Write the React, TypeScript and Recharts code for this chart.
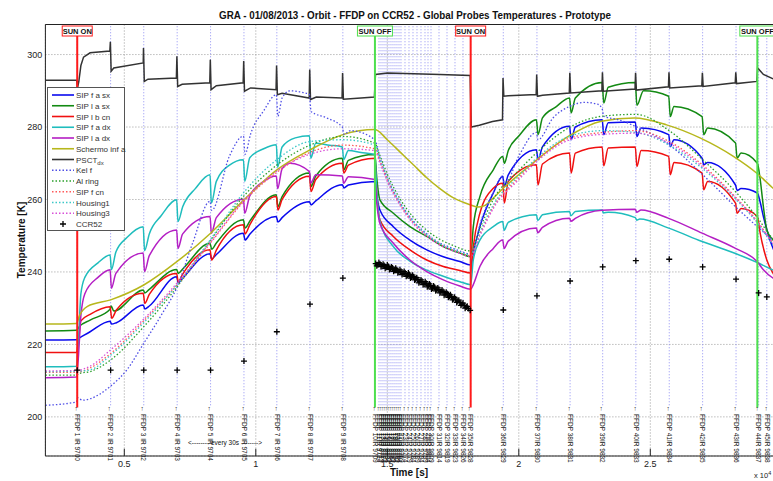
import React from "react";
import {
  ComposedChart,
  Line,
  Scatter,
  XAxis,
  YAxis,
  CartesianGrid,
  ReferenceLine,
  ReferenceDot,
} from "recharts";

// time in 10^4 s, temperature in K
const sipFaSx = [
  [0.2, 221.2], [0.318, 221.3], [0.33, 221.8], [0.37, 223.5], [0.446, 226.4], [0.452, 225.6], [0.47, 226.0],
  [0.572, 230.9], [0.578, 229.8], [0.595, 230.6], [0.699, 238.7], [0.705, 237.0], [0.722, 238.3],
  [0.826, 245.0], [0.832, 243.6], [0.85, 244.8], [0.953, 250.7], [0.959, 248.8], [0.977, 250.4],
  [1.078, 255.3], [1.084, 253.8], [1.1, 255.0], [1.204, 259.4], [1.21, 258.5], [1.228, 259.6],
  [1.329, 264.1], [1.335, 263.2], [1.352, 264.0], [1.453, 265.0], [1.46, 261.0], [1.472, 257.1],
  [1.523, 252.5], [1.586, 248.8], [1.65, 246.1], [1.713, 244.2], [1.776, 242.9], [1.817, 241.9],
  [1.827, 245.2], [1.852, 252.5], [1.903, 261.8], [1.939, 266.4], [1.945, 263.6], [1.96, 266.8],
  [2.067, 273.7], [2.073, 271.0], [2.09, 274.5], [2.193, 280.2], [2.199, 276.5], [2.215, 280.0],
  [2.317, 282.0], [2.323, 277.9], [2.34, 281.2], [2.443, 281.4], [2.449, 277.4], [2.465, 279.7],
  [2.57, 277.9], [2.576, 274.6], [2.59, 276.5], [2.697, 271.4], [2.703, 269.6], [2.718, 270.2],
  [2.824, 264.0], [2.83, 262.5], [2.845, 263.0], [2.907, 261.8], [2.917, 259.5], [2.93, 255.3],
  [2.967, 246.5], [3.0, 243.0],
];

const sipLaSx = [
  [0.2, 223.7], [0.318, 223.9], [0.33, 225.0], [0.37, 226.7], [0.446, 229.7], [0.45, 230.6], [0.46, 229.2],
  [0.572, 235.0], [0.578, 234.2], [0.595, 235.2], [0.699, 240.7], [0.705, 239.6], [0.722, 240.8],
  [0.826, 247.9], [0.832, 246.3], [0.85, 248.0], [0.953, 254.4], [0.959, 252.1], [0.977, 254.0],
  [1.078, 261.3], [1.084, 258.0], [1.1, 260.8], [1.204, 267.3], [1.21, 263.6], [1.228, 266.5],
  [1.329, 271.4], [1.335, 268.2], [1.352, 270.8], [1.453, 272.4], [1.46, 266.0], [1.472, 259.9],
  [1.523, 256.2], [1.586, 252.5], [1.65, 249.8], [1.713, 247.0], [1.776, 245.2], [1.817, 244.2],
  [1.827, 252.5], [1.852, 260.8], [1.903, 268.2], [1.939, 271.9], [1.945, 270.0], [1.96, 273.5],
  [2.0, 277.5], [2.067, 282.0], [2.073, 277.9], [2.09, 282.5], [2.14, 285.5], [2.193, 288.0],
  [2.199, 283.9], [2.215, 288.0], [2.317, 292.3], [2.323, 286.6], [2.34, 291.0], [2.443, 292.3],
  [2.449, 286.0], [2.474, 290.0], [2.57, 288.5], [2.576, 282.9], [2.59, 285.7], [2.697, 282.9],
  [2.703, 277.9], [2.718, 279.7], [2.824, 275.6], [2.83, 271.4], [2.845, 272.8], [2.907, 270.0],
  [2.917, 266.0], [2.93, 258.0], [2.943, 251.6], [2.967, 248.8], [3.0, 247.0],
];

const sipLbCn = [
  [0.2, 217.8], [0.318, 217.8], [0.326, 221.0], [0.335, 226.5], [0.37, 228.3], [0.446, 230.4], [0.452, 227.2],
  [0.47, 229.5], [0.572, 234.1], [0.578, 231.3], [0.595, 233.8], [0.699, 239.6], [0.705, 237.3],
  [0.722, 239.4], [0.826, 246.1], [0.832, 243.3], [0.85, 246.0], [0.953, 253.0], [0.959, 250.5],
  [0.977, 253.0], [1.078, 260.8], [1.084, 257.1], [1.1, 260.0], [1.204, 266.4], [1.21, 262.2],
  [1.228, 265.5], [1.329, 270.0], [1.335, 267.3], [1.352, 269.5], [1.453, 271.4], [1.46, 262.0],
  [1.472, 254.4], [1.523, 249.8], [1.586, 246.1], [1.65, 243.3], [1.713, 241.5], [1.776, 240.4],
  [1.817, 239.7], [1.827, 247.0], [1.852, 256.2], [1.903, 263.1], [1.939, 264.5], [1.945, 259.0],
  [1.96, 265.0], [2.067, 269.6], [2.073, 264.0], [2.09, 269.8], [2.193, 272.8], [2.199, 267.3],
  [2.215, 272.8], [2.317, 274.5], [2.323, 269.3], [2.34, 274.2], [2.443, 274.5], [2.449, 269.1],
  [2.465, 273.5], [2.57, 271.9], [2.576, 266.8], [2.59, 270.2], [2.697, 267.3], [2.703, 262.7],
  [2.718, 265.0], [2.824, 259.0], [2.83, 256.2], [2.845, 257.5], [2.907, 255.3], [2.917, 251.0],
  [2.943, 243.3], [2.967, 239.6], [3.0, 237.0],
];

const sipFaDx = [
  [0.2, 213.8], [0.318, 214.0], [0.325, 220.0], [0.335, 234.0], [0.35, 238.5], [0.4, 242.5], [0.446, 244.7],
  [0.451, 240.6], [0.468, 245.5], [0.51, 249.5], [0.572, 252.5], [0.577, 245.9], [0.595, 250.5],
  [0.64, 255.5], [0.699, 259.9], [0.704, 253.9], [0.722, 258.0], [0.77, 263.0], [0.826, 266.8],
  [0.831, 259.0], [0.85, 265.0], [0.9, 269.5], [0.953, 271.0], [0.958, 265.0], [0.977, 271.5],
  [1.03, 274.0], [1.078, 275.1], [1.083, 268.9], [1.1, 274.5], [1.15, 277.0], [1.204, 277.6],
  [1.209, 271.4], [1.228, 275.5], [1.28, 275.0], [1.329, 274.5], [1.334, 271.0], [1.352, 273.5],
  [1.4, 273.0], [1.453, 272.4], [1.46, 262.0], [1.472, 254.0], [1.523, 247.0], [1.586, 243.0],
  [1.65, 240.5], [1.713, 238.8], [1.776, 237.3], [1.817, 236.5], [1.827, 243.3], [1.852, 248.8],
  [1.903, 252.5], [1.939, 253.9], [1.944, 251.5], [1.96, 253.7], [2.067, 255.8], [2.072, 254.2],
  [2.09, 255.8], [2.193, 256.7], [2.198, 255.5], [2.215, 256.7], [2.317, 257.1], [2.322, 256.3],
  [2.34, 256.5], [2.443, 255.0], [2.448, 254.3], [2.46, 254.6], [2.57, 252.1], [2.697, 248.4],
  [2.824, 245.1], [2.907, 242.6], [2.967, 240.5], [3.0, 239.5],
];

const sipLaDx = [
  [0.2, 210.8], [0.318, 211.0], [0.325, 216.0], [0.335, 228.0], [0.35, 234.0], [0.4, 238.5], [0.446, 240.6],
  [0.451, 235.5], [0.468, 239.6], [0.572, 245.2], [0.577, 240.1], [0.595, 244.5], [0.699, 251.6],
  [0.704, 246.5], [0.722, 250.5], [0.826, 255.3], [0.831, 250.7], [0.85, 255.0], [0.953, 260.1],
  [0.958, 256.2], [0.977, 261.0], [1.03, 265.0], [1.078, 266.5], [1.083, 263.0], [1.1, 268.5],
  [1.13, 270.0], [1.204, 267.7], [1.209, 264.5], [1.228, 266.8], [1.329, 266.5], [1.334, 264.5],
  [1.352, 266.3], [1.453, 265.5], [1.46, 259.0], [1.472, 253.4], [1.523, 247.9], [1.586, 243.3],
  [1.65, 240.1], [1.713, 237.8], [1.776, 236.1], [1.817, 235.2], [1.827, 236.5], [1.852, 241.5],
  [1.903, 246.5], [1.939, 248.8], [1.944, 246.5], [1.96, 248.5], [2.067, 252.1], [2.072, 250.8],
  [2.09, 252.3], [2.193, 254.8], [2.198, 254.0], [2.215, 254.8], [2.317, 257.0], [2.443, 257.3],
  [2.448, 256.5], [2.465, 257.1], [2.57, 254.8], [2.697, 250.7], [2.824, 246.5], [2.907, 242.8],
  [2.93, 240.6], [2.967, 238.3], [3.0, 237.5],
];

const schermoInfA = [
  [0.2, 225.6], [0.318, 225.8], [0.33, 228.0], [0.36, 230.5], [0.448, 232.3], [0.574, 236.4], [0.701, 242.9],
  [0.828, 250.7], [0.955, 259.9], [1.08, 268.2], [1.206, 273.7], [1.331, 277.9], [1.453, 279.3],
  [1.5, 276.5], [1.55, 273.0], [1.6, 269.5], [1.65, 266.0], [1.7, 263.0], [1.75, 260.5], [1.817, 258.5],
  [1.845, 257.9], [1.87, 258.3], [1.903, 260.4], [1.935, 262.7], [2.061, 270.5], [2.188, 277.4],
  [2.314, 281.6], [2.44, 282.5], [2.562, 280.6], [2.689, 277.0], [2.816, 271.9], [2.904, 267.3],
  [2.967, 263.1], [3.0, 261.0],
];

const psctDx = [
  [0.2, 292.9], [0.319, 292.9], [0.322, 290.8], [0.327, 292.5], [0.335, 297.0], [0.345, 299.3], [0.37, 300.5],
  [0.445, 301.0], [0.447, 303.5], [0.45, 295.4], [0.46, 296.3], [0.572, 297.7], [0.573, 301.8],
  [0.576, 292.6], [0.59, 293.2], [0.698, 293.5], [0.7, 299.5], [0.703, 291.2], [0.72, 291.8],
  [0.825, 292.2], [0.827, 298.6], [0.83, 290.3], [0.85, 291.4], [0.952, 292.2], [0.954, 298.2],
  [0.957, 289.9], [0.98, 290.8], [1.077, 290.3], [1.079, 297.0], [1.082, 288.9], [1.1, 289.3],
  [1.203, 288.0], [1.205, 295.9], [1.208, 287.6], [1.23, 288.3], [1.328, 288.0], [1.33, 294.9],
  [1.333, 287.7], [1.4, 288.0], [1.451, 288.3], [1.455, 294.5], [1.5, 294.9], [1.7, 294.5],
  [1.815, 294.2], [1.819, 280.0], [1.85, 280.5], [1.9, 281.5], [1.938, 282.0], [1.94, 293.5],
  [1.943, 288.5], [1.96, 288.6], [2.066, 289.0], [2.068, 294.5], [2.071, 288.5], [2.09, 288.8],
  [2.192, 289.4], [2.194, 295.0], [2.197, 289.4], [2.316, 290.0], [2.318, 295.1], [2.321, 289.9],
  [2.442, 290.5], [2.444, 295.0], [2.447, 290.2], [2.569, 291.1], [2.571, 295.1], [2.574, 290.8],
  [2.696, 291.4], [2.698, 295.0], [2.701, 291.2], [2.823, 292.2], [2.825, 295.1], [2.828, 292.0],
  [2.905, 292.6], [2.908, 296.3], [2.93, 294.5], [2.967, 293.3], [3.0, 293.0],
];

const kelF = [
  [0.2, 203.2], [0.318, 204.1], [0.323, 205.3], [0.34, 204.6], [0.37, 205.0], [0.448, 208.5], [0.51, 213.0],
  [0.574, 220.3], [0.64, 228.0], [0.701, 235.9], [0.76, 248.0], [0.826, 259.5], [0.832, 257.0],
  [0.9, 272.0], [0.953, 277.5], [0.959, 272.5], [0.98, 278.0], [1.03, 284.5], [1.078, 288.9],
  [1.084, 283.0], [1.1, 288.0], [1.13, 290.0], [1.18, 289.5], [1.204, 289.0], [1.21, 284.3],
  [1.27, 282.5], [1.329, 280.0], [1.335, 278.0], [1.36, 279.0], [1.453, 276.5], [1.47, 272.0],
  [1.5, 266.0], [1.55, 259.0], [1.6, 254.0], [1.65, 250.5], [1.7, 248.0], [1.75, 246.5], [1.817, 245.0],
  [1.827, 246.0], [1.852, 253.0], [1.903, 262.0], [1.939, 266.5], [1.945, 264.0], [2.0, 272.0],
  [2.067, 278.5], [2.073, 276.5], [2.13, 282.5], [2.193, 285.7], [2.25, 286.8], [2.3, 286.3],
  [2.317, 285.0], [2.323, 283.0], [2.38, 282.0], [2.443, 280.2], [2.57, 275.2], [2.697, 267.0],
  [2.824, 258.0], [2.907, 252.5], [2.967, 248.8], [3.0, 247.0],
];

const alRing = [
  [0.2, 211.5], [0.318, 211.5], [0.33, 212.0], [0.37, 212.5], [0.448, 215.7], [0.574, 224.9], [0.701, 235.9],
  [0.828, 248.8], [0.955, 261.0], [1.08, 269.5], [1.206, 275.0], [1.331, 277.4], [1.453, 275.5],
  [1.47, 272.5], [1.5, 267.0], [1.55, 260.0], [1.6, 255.0], [1.65, 251.5], [1.7, 249.0], [1.75, 247.3],
  [1.817, 245.8], [1.852, 252.0], [1.903, 260.0], [2.0, 268.0], [2.069, 273.0], [2.195, 280.0],
  [2.319, 283.0], [2.445, 283.5], [2.572, 279.0], [2.699, 271.0], [2.826, 262.0], [2.907, 255.0],
  [2.967, 249.0], [3.0, 246.5],
];

const sipFCn = [
  [0.2, 212.3], [0.318, 212.3], [0.37, 213.5], [0.448, 217.5], [0.574, 226.5], [0.701, 236.5], [0.828, 248.0],
  [0.955, 259.5], [1.08, 267.5], [1.206, 273.0], [1.331, 275.0], [1.453, 274.0], [1.47, 271.0],
  [1.5, 265.5], [1.55, 258.5], [1.6, 253.5], [1.65, 250.0], [1.7, 247.6], [1.75, 246.0], [1.817, 244.5],
  [1.852, 250.5], [1.903, 258.0], [2.0, 266.0], [2.069, 271.0], [2.195, 277.0], [2.319, 278.5],
  [2.445, 279.0], [2.572, 276.0], [2.699, 269.5], [2.826, 260.5], [2.907, 254.0], [2.967, 248.0],
  [3.0, 245.5],
];

const housing1 = [
  [0.2, 212.5], [0.318, 212.6], [0.37, 213.0], [0.448, 217.0], [0.574, 226.0], [0.701, 236.5], [0.828, 249.0],
  [0.955, 262.0], [1.08, 271.0], [1.206, 276.0], [1.331, 276.5], [1.453, 275.0], [1.47, 271.5],
  [1.5, 265.8], [1.55, 258.8], [1.6, 253.8], [1.65, 250.3], [1.7, 247.8], [1.75, 246.2], [1.817, 244.8],
  [1.852, 251.0], [1.903, 258.5], [2.0, 266.5], [2.069, 271.5], [2.195, 277.5], [2.319, 279.0],
  [2.445, 278.5], [2.572, 275.0], [2.699, 268.5], [2.826, 260.0], [2.907, 253.5], [2.967, 247.5],
  [3.0, 245.0],
];

const housing3 = [
  [0.2, 212.7], [0.318, 212.8], [0.37, 214.0], [0.448, 218.5], [0.574, 227.0], [0.701, 237.0], [0.828, 248.3],
  [0.955, 259.8], [1.08, 267.8], [1.206, 272.5], [1.331, 274.0], [1.453, 273.5], [1.47, 270.5],
  [1.5, 265.0], [1.55, 258.2], [1.6, 253.2], [1.65, 249.8], [1.7, 247.4], [1.75, 245.8], [1.817, 244.3],
  [1.852, 250.0], [1.903, 257.5], [2.0, 265.5], [2.069, 270.5], [2.195, 276.5], [2.319, 278.0],
  [2.445, 278.3], [2.572, 275.5], [2.699, 269.0], [2.826, 260.3], [2.907, 253.8], [2.967, 247.8],
  [3.0, 245.2],
];

// CCR52 readings: one per FFDP in sunlight, a dense run during eclipse
const ccr52 = [
  [0.321, 212.9], [0.448, 212.9], [0.574, 212.9], [0.701, 212.9], [0.828, 212.9], [0.955, 215.4],
  [1.08, 223.5], [1.206, 231.1], [1.331, 238.3],
  [1.456, 242.3], [1.46, 241.7], [1.464, 242.0], [1.468, 242.6], [1.472, 242.2], [1.476, 241.5],
  [1.48, 241.6], [1.484, 242.1], [1.488, 241.8], [1.492, 241.0], [1.496, 241.3], [1.5, 241.9],
  [1.504, 241.5], [1.508, 240.7], [1.512, 240.9], [1.516, 241.4], [1.52, 241.1], [1.524, 240.2],
  [1.528, 240.5], [1.532, 241.0], [1.536, 240.6], [1.54, 239.8], [1.544, 240.0], [1.548, 240.6],
  [1.552, 240.2], [1.556, 239.3], [1.56, 239.6], [1.564, 240.1], [1.568, 239.7], [1.572, 238.8],
  [1.576, 239.1], [1.58, 239.7], [1.584, 239.3], [1.588, 238.3], [1.592, 238.6], [1.596, 239.1],
  [1.6, 238.7], [1.604, 237.8], [1.608, 238.0], [1.612, 238.4], [1.616, 237.9], [1.62, 237.0],
  [1.624, 237.3], [1.628, 237.8], [1.632, 237.4], [1.636, 236.5], [1.64, 236.7], [1.644, 237.3],
  [1.648, 236.9], [1.652, 235.9], [1.656, 236.2], [1.66, 236.7], [1.664, 236.3], [1.668, 235.3],
  [1.672, 235.6], [1.676, 236.1], [1.68, 235.8], [1.684, 234.8], [1.688, 235.1], [1.692, 235.6],
  [1.696, 235.2], [1.7, 234.2], [1.704, 234.5], [1.708, 235.0], [1.712, 234.6], [1.716, 233.6],
  [1.72, 233.9], [1.724, 234.4], [1.728, 234.0], [1.732, 233.0], [1.736, 233.3], [1.74, 233.7],
  [1.744, 233.2], [1.748, 232.3], [1.752, 232.6], [1.756, 233.0], [1.76, 232.5], [1.764, 231.6],
  [1.768, 231.9], [1.772, 232.2], [1.776, 231.6], [1.78, 230.8], [1.784, 231.1], [1.788, 231.4],
  [1.792, 230.8], [1.796, 230.0], [1.8, 230.3], [1.804, 230.5], [1.808, 229.9], [1.815, 229.4],
  [1.941, 229.5], [2.069, 233.4], [2.195, 237.5], [2.319, 241.4], [2.445, 243.1], [2.572, 243.5],
  [2.699, 241.4], [2.826, 238.0], [2.912, 234.2], [2.943, 233.1],
];

const ffdpTimes = [
  0.321, 0.448, 0.574, 0.701, 0.828, 0.955, 1.08, 1.206, 1.331, 1.455,
  1.4684, 1.476, 1.4836, 1.4912, 1.4988, 1.5064, 1.514, 1.5216, 1.5292, 1.5368, 1.5445, 1.552,
  1.5673, 1.5825, 1.5977, 1.6129, 1.6281, 1.6433, 1.6548, 1.6662, 1.6966, 1.727, 1.7574, 1.7878,
  1.817, 1.941, 2.069, 2.195, 2.319, 2.445, 2.572, 2.699, 2.826, 2.912, 2.943,
];

const ffdpLabels = [
  "FFDP 1  IR 9700", "FFDP 2  IR 9701", "FFDP 3  IR 9702", "FFDP 4  IR 9703", "FFDP 5  IR 9704",
  "FFDP 6  IR 9705", "FFDP 7  IR 9706", "FFDP 8  IR 9707", "FFDP 9  IR 9708", "FFDP 10IR 9709",
  "FFDP 11IR 9714", "FFDP 12IR 9719", "FFDP 13IR 9724", "FFDP 14IR 9729", "FFDP 15IR 9734",
  "FFDP 16IR 9739", "FFDP 17IR 9744", "FFDP 18IR 9749", "FFDP 19IR 9754", "FFDP 20IR 9759",
  "FFDP 21IR 9764", "FFDP 22IR 9769", "FFDP 23IR 9774", "FFDP 24IR 9779", "FFDP 25IR 9784",
  "FFDP 26IR 9789", "FFDP 27IR 9794", "FFDP 28IR 9799", "FFDP 29IR 9804", "FFDP 30IR 9809",
  "FFDP 31IR 9814", "FFDP 32IR 9819", "FFDP 33IR 9823", "FFDP 34IR 9826", "FFDP 35IR 9828",
  "FFDP 36IR 9829", "FFDP 37IR 9830", "FFDP 38IR 9831", "FFDP 39IR 9832", "FFDP 40IR 9833",
  "FFDP 41IR 9834", "FFDP 42IR 9835", "FFDP 43IR 9836", "FFDP 44IR 9837", "FFDP 45IR 9838",
];

const sunEvents = [
  { t: 0.321, label: "SUN ON", color: "#ff1a1a" },
  { t: 1.453, label: "SUN OFF", color: "#4ee04e" },
  { t: 1.817, label: "SUN ON", color: "#ff1a1a" },
  { t: 2.907, label: "SUN OFF", color: "#4ee04e" },
];

const xTicks = [0.5, 1, 1.5, 2, 2.5];
const yTicks = [200, 220, 240, 260, 280, 300];
const X_DOMAIN = [0.2, 3.0];
const Y_DOMAIN = [189.2, 308.3];

const SERIES = [
  { name: "SIP f a sx", pts: sipFaSx, color: "#0a0aee", dotted: false },
  { name: "SIP l a sx", pts: sipLaSx, color: "#138a13", dotted: false },
  { name: "SIP l b cn", pts: sipLbCn, color: "#f01010", dotted: false },
  { name: "SIP f a dx", pts: sipFaDx, color: "#1fbdbd", dotted: false },
  { name: "SIP l a dx", pts: sipLaDx, color: "#b41fc4", dotted: false },
  { name: "Schermo inf a", pts: schermoInfA, color: "#b7b71c", dotted: false },
  { name: "PSCT", sub: "dx", pts: psctDx, color: "#333333", dotted: false },
  { name: "Kel f", pts: kelF, color: "#4f4fe6", dotted: true },
  { name: "Al ring", pts: alRing, color: "#2ca02c", dotted: true },
  { name: "SIP f cn", pts: sipFCn, color: "#ff5a5a", dotted: true },
  { name: "Housing1", pts: housing1, color: "#3cc8c8", dotted: true },
  { name: "Housing3", pts: housing3, color: "#d84fd8", dotted: true },
];

const toPts = (a: number[][]) => a.map(([t, v]) => ({ t, v }));
const FONT = "'Liberation Sans', Arial, sans-serif";

const Plus = (props: any) => {
  const { cx, cy } = props;
  if (cx == null || cy == null) return null;
  return <path d={`M${cx - 3},${cy}h6M${cx},${cy - 3}v6`} stroke="#000" strokeWidth={1.3} fill="none" />;
};

function Legend() {
  const rowY = (i: number) => 95 + i * 10.75;
  return (
    <g fontFamily={FONT} fontSize={8} fill="#333">
      <rect x={47.5} y={87.5} width={77} height={143} fill="#fff" stroke="#555" />
      {SERIES.map((s, i) => (
        <g key={s.name}>
          <line
            x1={52}
            x2={74}
            y1={rowY(i)}
            y2={rowY(i)}
            stroke={s.color}
            strokeWidth={s.dotted ? 1.3 : 1.6}
            strokeDasharray={s.dotted ? "1.5 2" : undefined}
          />
          <text x={76} y={rowY(i) + 3}>
            {s.name}
            {s.sub ? (
              <tspan fontSize={6} dy={2.5}>
                {s.sub}
              </tspan>
            ) : null}
          </text>
        </g>
      ))}
      <path d={`M60,${rowY(12)}h6M63,${rowY(12) - 3}v6`} stroke="#000" strokeWidth={1.3} />
      <text x={76} y={rowY(12) + 3}>CCR52</text>
    </g>
  );
}

export default function App() {
  return (
    <div
      style={{
        position: "fixed",
        left: 0,
        top: 0,
        width: 773,
        height: 481,
        overflow: "hidden",
        background: "#fff",
      }}
    >
      <ComposedChart width={790} height={481} margin={{ top: 24.5, right: 8.2, bottom: 0, left: 5.4 }}>
        <CartesianGrid stroke="#9a9a9a" strokeDasharray="1 2" />
        <XAxis
          type="number"
          dataKey="t"
          domain={X_DOMAIN}
          ticks={xTicks}
          allowDataOverflow
          height={25}
          tickSize={3}
          tickMargin={2}
          tickLine={false}
          axisLine={{ stroke: "#222" }}
          tick={{ fontSize: 9, fill: "#222", fontFamily: FONT }}
        />
        <YAxis
          type="number"
          domain={Y_DOMAIN}
          ticks={yTicks}
          allowDataOverflow
          width={40}
          tickSize={3}
          tickMargin={0}
          tickLine={false}
          axisLine={{ stroke: "#222" }}
          tick={{ fontSize: 9, fill: "#222", fontFamily: FONT }}
        />
        <ReferenceLine y={Y_DOMAIN[1]} stroke="#222" />
        {xTicks.map((x) => (
          <ReferenceLine
            key={`xt${x}`}
            segment={[{ x, y: Y_DOMAIN[0] }, { x, y: Y_DOMAIN[0] + 2 }]}
            stroke="#222"
          />
        ))}
        {ffdpTimes.map((t, i) => (
          <ReferenceLine
            key={`f${i}`}
            segment={[{ x: t, y: 203.2 }, { x: t, y: Y_DOMAIN[1] }]}
            stroke="#8f8ff2"
            strokeDasharray="1 2"
          />
        ))}
        {SERIES.map((s) => (
          <Line
            key={s.name}
            data={toPts(s.pts)}
            dataKey="v"
            type={s.name === "PSCT" ? "linear" : "monotone"}
            stroke={s.color}
            strokeWidth={s.dotted ? 1.3 : 1.5}
            strokeDasharray={s.dotted ? "1.5 2" : undefined}
            dot={false}
            isAnimationActive={false}
          />
        ))}
        <Scatter data={toPts(ccr52)} dataKey="v" shape={Plus} isAnimationActive={false} />
        {sunEvents.map((e, i) => (
          <ReferenceLine
            key={`s${i}`}
            segment={[{ x: e.t, y: 202.6 }, { x: e.t, y: 305.3 }]}
            stroke={e.color}
            strokeWidth={2}
          />
        ))}
        {sunEvents.map((e, i) => (
          <ReferenceDot
            key={`sb${i}`}
            x={e.t}
            y={Y_DOMAIN[1]}
            r={0}
            shape={(p: any) => {
              const w = e.label === "SUN ON" ? 30 : 35;
              return (
                <g>
                  <rect x={p.cx - w / 2} y={p.cy + 1.5} width={w} height={10} fill="#fff" stroke={e.color} />
                  <text
                    x={p.cx}
                    y={p.cy + 9.5}
                    textAnchor="middle"
                    fontSize={7.5}
                    fontWeight="bold"
                    fontFamily={FONT}
                    fill="#111"
                  >
                    {e.label}
                  </text>
                </g>
              );
            }}
          />
        ))}
        {ffdpTimes.map((t, i) => (
          <ReferenceDot
            key={`fl${i}`}
            x={t}
            y={203.2}
            r={0}
            shape={(p: any) => {
              const x = p.cx - 2.3;
              const y = p.cy + 0.5;
              return (
                <text
                  x={x}
                  y={y}
                  transform={`rotate(90 ${x} ${y})`}
                  fontSize={6.5}
                  fontFamily={FONT}
                  fill="#111"
                >
                  {"\u2190 " + ffdpLabels[i]}
                </text>
              );
            }}
          />
        ))}
        <ReferenceDot
          x={0.883}
          y={192.9}
          r={0}
          shape={(p: any) => (
            <text x={p.cx} y={p.cy + 2} textAnchor="middle" fontSize={6.5} fontFamily={FONT} fill="#111">
              {"<-------- every 30s -------->"}
            </text>
          )}
        />
      </ComposedChart>
      <svg
        width={773}
        height={481}
        style={{ position: "absolute", left: 0, top: 0, pointerEvents: "none" }}
      >
        <text
          x={415}
          y={19}
          textAnchor="middle"
          fontFamily={FONT}
          fontWeight="bold"
          fontSize={11}
          textLength={392}
          lengthAdjust="spacingAndGlyphs"
          fill="#111"
        >
          GRA - 01/08/2013 - Orbit - FFDP on CCR52 - Global Probes Temperatures - Prototype
        </text>
        <text
          x={25}
          y={240}
          transform="rotate(-90 25 240)"
          textAnchor="middle"
          fontFamily={FONT}
          fontWeight="bold"
          fontSize={10}
          fill="#111"
        >
          Temperature [K]
        </text>
        <text x={409} y={476} textAnchor="middle" fontFamily={FONT} fontWeight="bold" fontSize={10} fill="#111">
          Time [s]
        </text>
        <text x={754} y={478} fontFamily={FONT} fontSize={7.5} fill="#222">
          x 10<tspan fontSize={5.5} dy={-3.5}>4</tspan>
        </text>
        <Legend />
      </svg>
    </div>
  );
}
